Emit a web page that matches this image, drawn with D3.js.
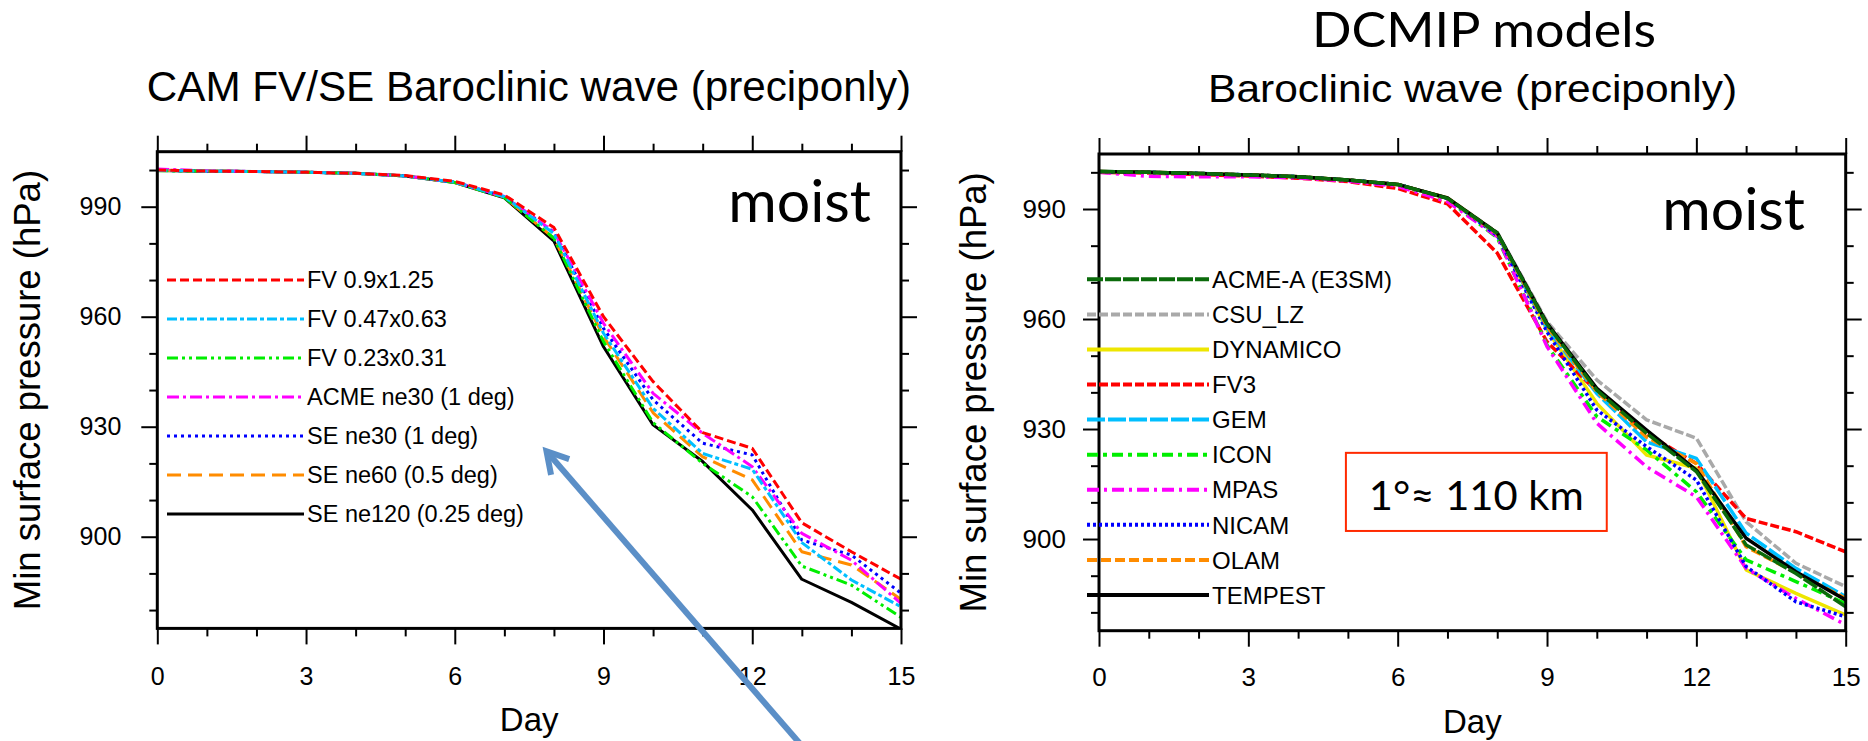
<!DOCTYPE html>
<html><head><meta charset="utf-8">
<script src="https://cdn.jsdelivr.net/npm/d3@7"></script>
<style>body{margin:0;background:#fff;} svg{display:block;}</style>
</head><body><svg id="c" width="1868" height="741"></svg>
<script>
// ---------------- data ----------------
const days = [0,1,2,3,4,5,6,7,8,9,10,11,12,13,14,15];
const xTicksMajor = [0,3,6,9,12,15];
const xTicksMinor = [1,2,4,5,7,8,10,11,13,14];
const yTicksMajor = [900,930,960,990];
const yTicksMinor = [880,890,910,920,940,950,970,980,1000];
const yDomain = [875,1005];

// Left panel: CAM FV/SE
const leftNames = ["FV 0.9x1.25","FV 0.47x0.63","FV 0.23x0.31","ACME ne30 (1 deg)","SE ne30 (1 deg)","SE ne60 (0.5 deg)","SE ne120 (0.25 deg)"];
const fv09   = [1000.0,999.7,999.6,999.4,999.1,998.5,996.9,993.2,984.3,960.0,942.3,928.4,924.1,903.8,895.9,888.4];
const fv047  = [999.9,999.7,999.6,999.4,999.1,998.4,996.7,992.7,982.7,955.5,935.0,922.7,918.4,898.4,888.2,880.9];
const fv023  = [999.8,999.7,999.6,999.4,999.1,998.4,996.6,992.5,981.4,953.2,931.1,920.0,910.9,892.0,886.8,878.0];
const acme30 = [1000.3,999.8,999.6,999.4,999.1,998.4,996.7,992.8,983.2,958.2,939.1,928.2,919.1,900.9,893.6,881.8];
const se30   = [999.9,999.7,999.6,999.4,999.1,998.4,996.7,992.8,983.0,956.8,937.3,925.5,922.3,899.1,895.0,884.6];
const se60   = [999.9,999.7,999.6,999.4,999.1,998.4,996.6,992.6,981.4,954.6,933.8,921.8,915.5,895.9,892.3,882.9];
const se120  = [999.9,999.7,999.6,999.4,999.1,998.4,996.6,992.4,980.6,951.8,930.5,920.5,907.3,888.4,882.1,874.8];
const leftValues = [fv09, fv047, fv023, acme30, se30, se60, se120];

// Right panel: DCMIP models
const rightNames = ["ACME-A (E3SM)","CSU_LZ","DYNAMICO","FV3","GEM","ICON","MPAS","NICAM","OLAM","TEMPEST"];
const acmeA   = [1000.2,1000.0,999.7,999.3,998.8,997.9,996.7,992.9,983.4,958.5,940.6,928.8,918.4,898.4,890.6,881.5];
const csuLZ   = [1000.2,1000.0,999.7,999.3,998.8,997.9,996.7,993.0,983.6,959.3,943.4,932.5,927.5,904.7,893.4,887.0];
const dynamico= [1000.2,1000.0,999.7,999.3,998.8,997.9,996.7,993.0,983.4,957.0,937.0,922.9,919.3,891.6,885.2,879.3];
const fv3     = [1000.0,999.8,999.4,999.0,998.4,997.5,995.6,991.4,978.0,953.8,940.2,928.8,920.6,905.6,902.0,896.5];
const gem     = [1000.2,1000.0,999.7,999.3,998.8,997.9,996.7,992.9,983.0,957.5,939.7,926.5,922.0,901.6,892.0,884.3];
const icon    = [1000.1,999.9,999.6,999.2,998.7,997.8,996.5,992.6,982.2,952.9,933.4,924.3,912.9,894.3,888.4,882.4];
const mpas    = [1000.0,998.9,998.8,998.8,998.5,997.6,996.2,992.0,982.5,952.5,931.6,919.7,911.5,892.0,883.8,876.6];
const nicam   = [1000.2,1000.0,999.7,999.3,998.8,997.9,996.7,992.9,982.8,956.5,935.2,925.2,916.1,892.5,882.9,878.8];
const olam    = [1000.2,1000.0,999.7,999.3,998.8,997.9,996.7,992.9,983.2,958.0,940.2,927.8,920.6,897.9,890.8,883.8];
const tempest = [1000.2,1000.0,999.7,999.3,998.8,997.9,996.7,993.0,983.5,958.8,941.1,929.7,918.8,900.2,891.1,883.4];
const rightValues = [acmeA, csuLZ, dynamico, fv3, gem, icon, mpas, nicam, olam, tempest];

// ---------------- styles ----------------
const leftStyles = [
  {c:"#ff0000", d:"9,4"},
  {c:"#00bfff", d:"10,3,4,3"},
  {c:"#00ee00", d:"11,4,3,4,3,4"},
  {c:"#ff00ff", d:"12,4,3,4"},
  {c:"#0000ff", d:"3,4"},
  {c:"#ff8c00", d:"14,7"},
  {c:"#000000", d:null}
];
const rightStyles = [
  {c:"#0b6b0b", d:"16,2"},
  {c:"#a9a9a9", d:"9,3"},
  {c:"#eee600", d:null},
  {c:"#ff0000", d:"9,3"},
  {c:"#00bfff", d:"18,3"},
  {c:"#00ee00", d:"11,5,4,5"},
  {c:"#ff00ff", d:"12,5,3,5"},
  {c:"#0000ff", d:"3,3"},
  {c:"#ff8c00", d:"10,4"},
  {c:"#000000", d:null}
];

const svg = d3.select("#c");
const NCL = "'Liberation Sans', Arial, Helvetica, sans-serif";
const CAL = "Lato, 'Open Sans', sans-serif";

function panel(cfg){
  const x = d3.scaleLinear().domain([0,15]).range([cfg.x0, cfg.x1]);
  const y = d3.scaleLinear().domain(yDomain).range([cfg.y1, cfg.y0]);
  const g = svg.append("g");
  const clipId = "clip" + cfg.id;
  svg.append("clipPath").attr("id", clipId).append("rect")
     .attr("x", cfg.x0).attr("y", cfg.y0).attr("width", cfg.x1-cfg.x0).attr("height", cfg.y1-cfg.y0);

  // series
  const line = d3.line().x((d,i)=>x(days[i])).y(d=>y(d));
  const lg = g.append("g").attr("clip-path", `url(#${clipId})`);
  cfg.order.forEach(i=>{
    lg.append("path").datum(cfg.values[i]).attr("d", line)
      .attr("fill","none").attr("stroke", cfg.styles[i].c)
      .attr("stroke-width", cfg.lw)
      .attr("stroke-dasharray", cfg.styles[i].d)
      .attr("stroke-linejoin","round");
  });

  // axes (major + minor ticks, all outward)
  function styleAxis(a, fs, pad){
    a.select(".domain").remove();
    a.selectAll("line").attr("stroke","#000").attr("stroke-width",2);
    a.selectAll("text").attr("font-family", NCL).attr("font-size", fs).attr("fill","#000");
  }
  const ax = [
    [d3.axisBottom(x), cfg.y1, "b"], [d3.axisTop(x), cfg.y0, "t"]
  ];
  ax.forEach(([axf, pos, s])=>{
    const a1 = g.append("g").attr("transform",`translate(0,${pos})`)
      .call(axf.tickValues(xTicksMajor).tickSize(16).tickSizeOuter(0).tickPadding(cfg.xpad)
        .tickFormat(s==="b" ? d3.format("d") : ""));
    styleAxis(a1, cfg.tickFs);
    const a2 = g.append("g").attr("transform",`translate(0,${pos})`)
      .call((s==="b"?d3.axisBottom(x):d3.axisTop(x)).tickValues(xTicksMinor).tickSize(8).tickSizeOuter(0).tickFormat(""));
    styleAxis(a2, cfg.tickFs);
  });
  [["l", cfg.x0], ["r", cfg.x1]].forEach(([s,pos])=>{
    const mk = ()=> s==="l" ? d3.axisLeft(y) : d3.axisRight(y);
    const a1 = g.append("g").attr("transform",`translate(${pos},0)`)
      .call(mk().tickValues(yTicksMajor).tickSize(16).tickSizeOuter(0).tickPadding(cfg.ypad)
        .tickFormat(s==="l" ? d3.format("d") : ""));
    styleAxis(a1, cfg.tickFs);
    const a2 = g.append("g").attr("transform",`translate(${pos},0)`)
      .call(mk().tickValues(yTicksMinor).tickSize(8).tickSizeOuter(0).tickFormat(""));
    styleAxis(a2, cfg.tickFs);
  });

  // frame
  g.append("rect").attr("x", cfg.x0).attr("y", cfg.y0)
    .attr("width", cfg.x1-cfg.x0).attr("height", cfg.y1-cfg.y0)
    .attr("fill","none").attr("stroke","#000").attr("stroke-width",3);

  // axis titles
  g.append("text").attr("x", (cfg.x0+cfg.x1)/2).attr("y", cfg.dayY)
    .attr("text-anchor","middle").attr("font-family",NCL).attr("font-size",33).text("Day");
  g.append("text").attr("transform",`translate(${cfg.ylabX},${(cfg.y0+cfg.y1)/2}) rotate(-90)`)
    .attr("text-anchor","middle").attr("font-family",NCL).attr("font-size",36.5)
    .text("Min surface pressure (hPa)");

  // legend
  cfg.names.forEach((n,i)=>{
    const ly = cfg.legY0 + i*cfg.legDy;
    g.append("line").attr("x1", cfg.legX0).attr("x2", cfg.legX1).attr("y1", ly).attr("y2", ly)
      .attr("stroke", cfg.styles[i].c).attr("stroke-width", cfg.legLw)
      .attr("stroke-dasharray", cfg.styles[i].d);
    g.append("text").attr("x", cfg.legX1+3).attr("y", ly).attr("dy","0.36em")
      .attr("font-family",NCL).attr("font-size", cfg.legFs).text(n);
  });

  // "moist"
  g.append("text").attr("x", cfg.moistX).attr("y", cfg.moistY).attr("text-anchor","end")
    .attr("font-family",CAL).attr("font-size",59).text("moist");
  return {x, y, g};
}

// ---------- left panel ----------
const L = panel({
  id:"L", x0:157.3, x1:901, y0:151.7, y1:628.4,
  values:leftValues, styles:leftStyles, names:leftNames, order:[6,5,4,3,2,1,0], lw:3,
  xpad:23, ypad:20, tickFs:25, dayY:730.5, ylabX:40,
  legX0:167, legX1:304, legY0:280, legDy:39, legFs:23.5, legLw:3,
  moistX:871, moistY:221.7
});
svg.append("text").attr("x",529).attr("y",101).attr("text-anchor","middle")
  .attr("font-family",NCL).attr("font-size",42.2).text("CAM FV/SE Baroclinic wave (preciponly)");

// ---------- right panel ----------
const R = panel({
  id:"R", x0:1099, x1:1845.7, y0:154, y1:630.7,
  values:rightValues, styles:rightStyles, names:rightNames, order:[1,2,3,4,5,6,7,8,9,0], lw:3.5,
  xpad:21, ypad:17, tickFs:26, dayY:733.3, ylabX:986,
  legX0:1087, legX1:1209, legY0:279.3, legDy:35.08, legFs:24, legLw:4,
  moistX:1805, moistY:230
});
svg.append("text").attr("x",1484).attr("y",46.7).attr("text-anchor","middle")
  .attr("font-family",CAL).attr("font-size",49).attr("textLength",344).attr("lengthAdjust","spacingAndGlyphs")
  .text("DCMIP models");
svg.append("text").attr("x",1472.6).attr("y",101.7).attr("text-anchor","middle")
  .attr("font-family",NCL).attr("font-size",38).attr("textLength",529).attr("lengthAdjust","spacingAndGlyphs")
  .text("Baroclinic wave (preciponly)");

// resolution note box (right panel, data coords)
const boxDays = [4.96, 10.2], boxP = [923.5, 902.2];
svg.append("rect").attr("x", R.x(boxDays[0])).attr("y", R.y(boxP[0]))
  .attr("width", R.x(boxDays[1])-R.x(boxDays[0])).attr("height", R.y(boxP[1])-R.y(boxP[0]))
  .attr("fill","#fff").attr("stroke","#ff2a00").attr("stroke-width",2);
svg.append("text").attr("x", (R.x(boxDays[0])+R.x(boxDays[1]))/2).attr("y", 510)
  .attr("text-anchor","middle").attr("font-family",CAL).attr("font-size",41)
  .attr("textLength",215).attr("lengthAdjust","spacingAndGlyphs").text("1°≈ 110 km");

// blue arrow annotation (left panel data coords)
const arrowHead = [7.85, 923.3], arrowTail = [13.0, 843];
const hx = L.x(arrowHead[0]), hy = L.y(arrowHead[1]);
const tx = L.x(arrowTail[0]), ty = L.y(arrowTail[1]);
const ang = Math.atan2(hy-ty, hx-tx);
const al = 24, aw = Math.PI/6;
const ag = svg.append("g").attr("stroke","#5b8fc7").attr("stroke-width",6).attr("fill","none");
ag.append("line").attr("x1",tx).attr("y1",ty).attr("x2",hx).attr("y2",hy);
ag.append("path").attr("stroke-linejoin","miter").attr("stroke-linecap","butt")
  .attr("d", `M${hx-al*Math.cos(ang-aw)},${hy-al*Math.sin(ang-aw)} L${hx},${hy} L${hx-al*Math.cos(ang+aw)},${hy-al*Math.sin(ang+aw)}`);
</script>
</body></html>
